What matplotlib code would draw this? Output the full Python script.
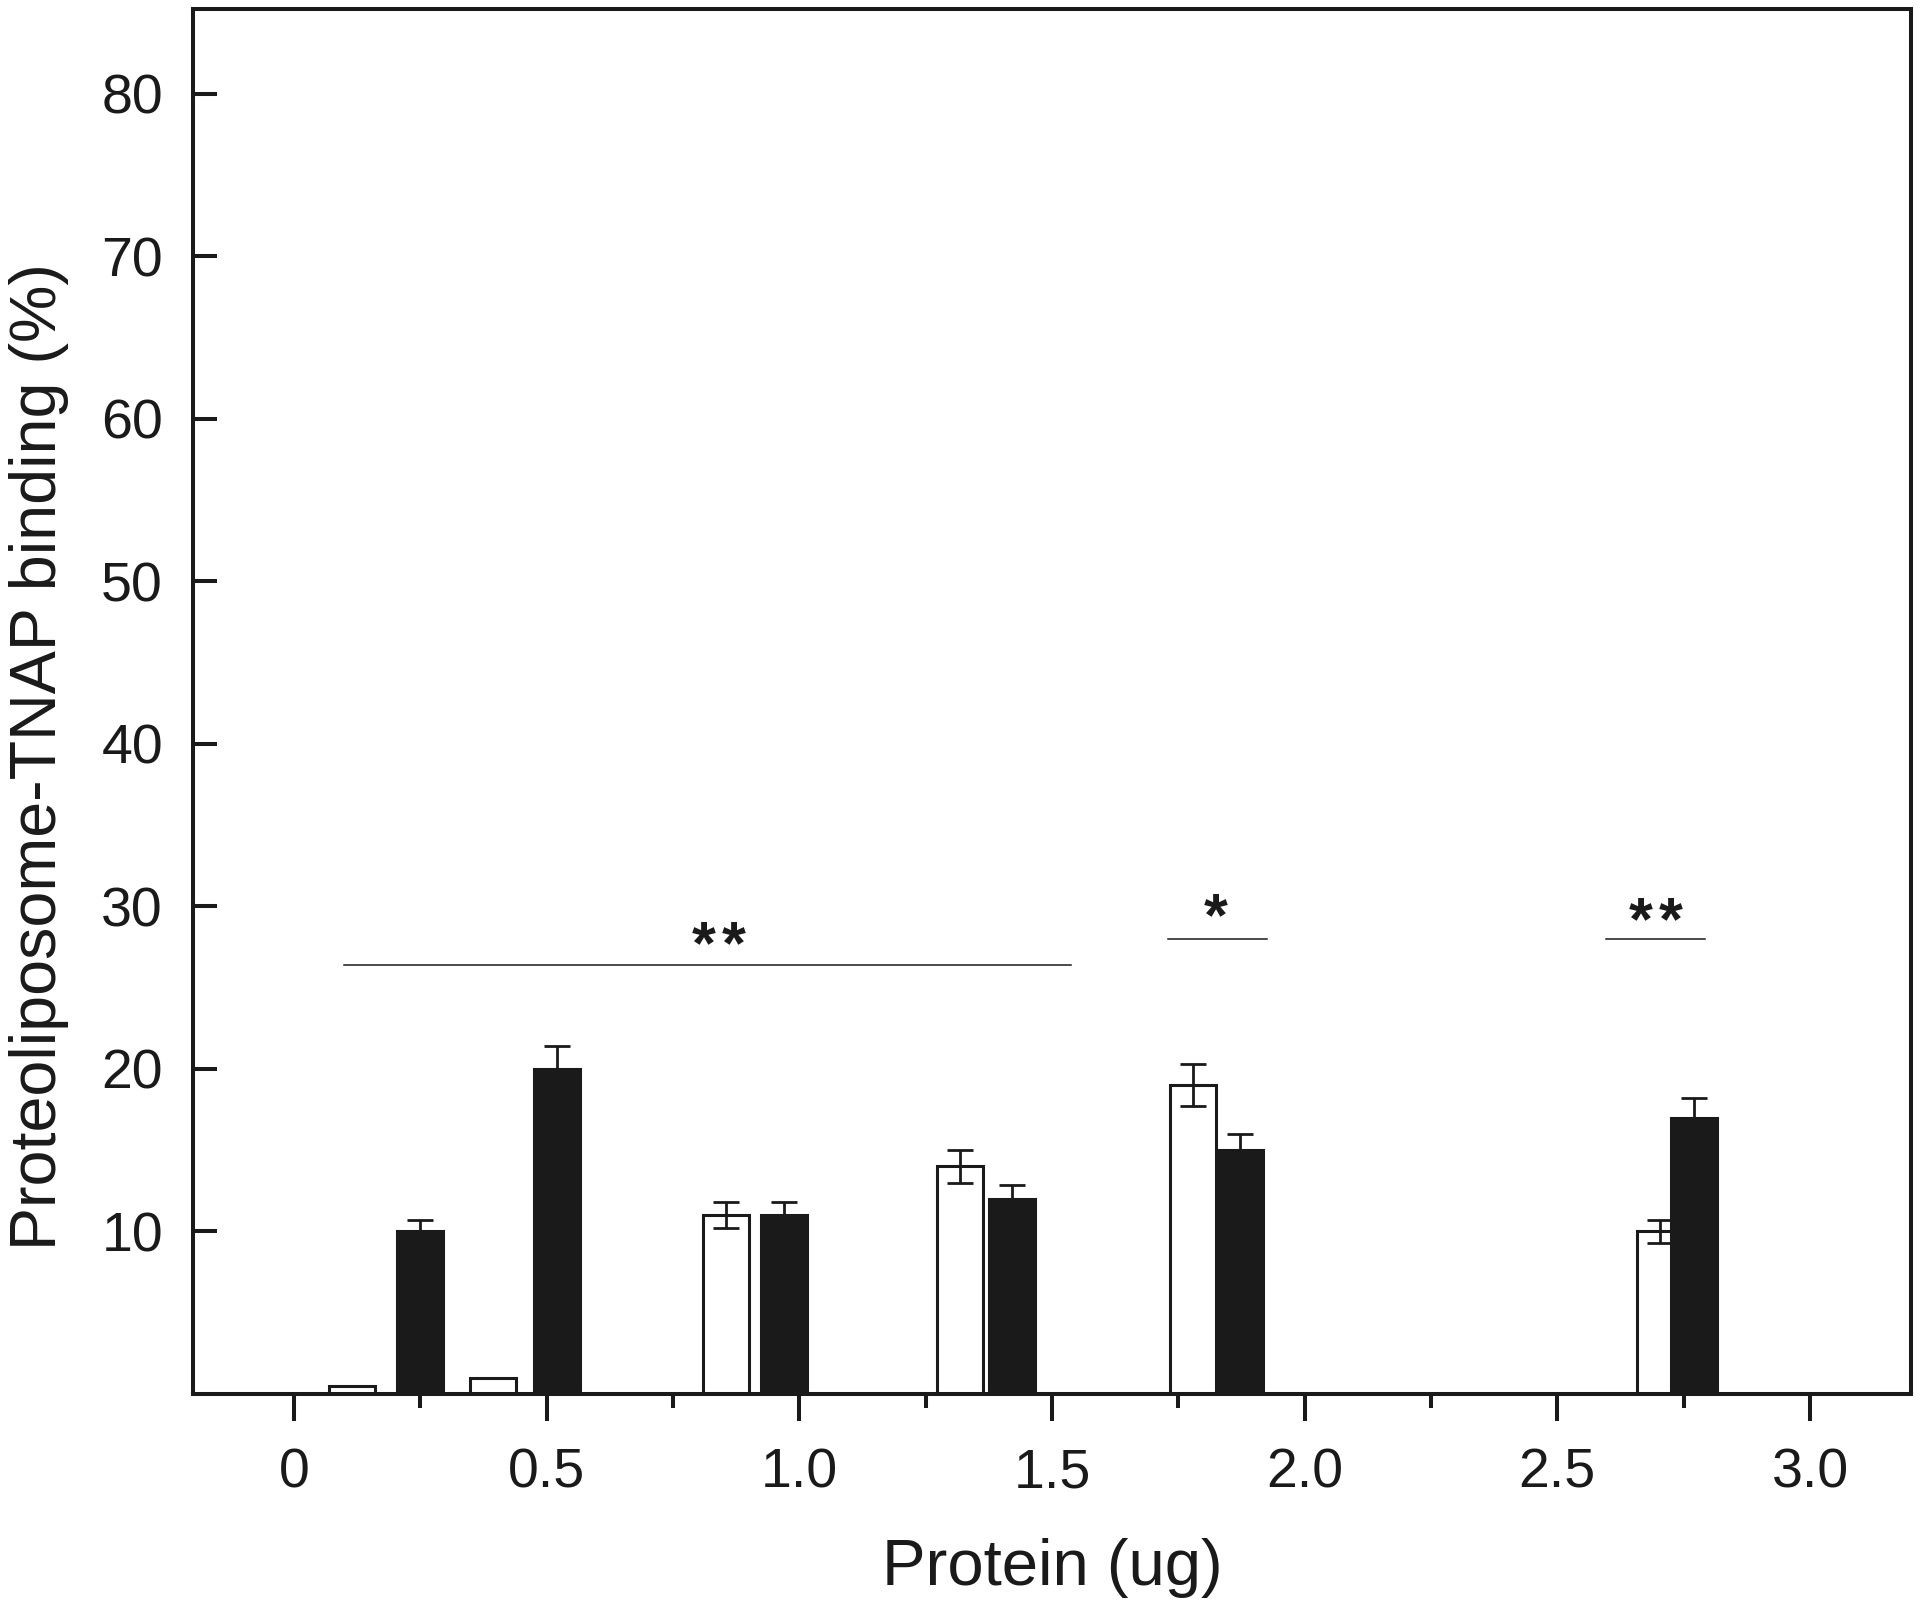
import matplotlib
matplotlib.use("Agg")
import matplotlib.pyplot as plt
from matplotlib.ticker import MultipleLocator

plt.rcParams["font.family"] = ["Liberation Sans", "DejaVu Sans"]

# bar positions (ug) and values (%)
open_x = [0.115, 0.393, 0.855, 1.318, 1.780, 2.704]
open_vals = [0.5, 1.0, 11.0, 14.0, 19.0, 10.0]
open_err = [0.0, 0.0, 0.8, 1.0, 1.3, 0.7]

filled_x = [0.249, 0.520, 0.970, 1.421, 1.872, 2.771]
filled_vals = [10.0, 20.0, 11.0, 12.0, 15.0, 17.0]
filled_err = [0.7, 1.4, 0.8, 0.85, 1.0, 1.2]

# significance marks: line from x0 to x1 at height y, n stars centred at sx
sig_x0 = [0.098, 1.729, 2.597]
sig_x1 = [1.538, 1.925, 2.792]
sig_y = [26.4, 28.0, 28.0]
sig_stars = [2, 1, 2]
sig_sx = [0.841, 1.825, 2.695]
sig_sy = [26.5, 28.2, 28.0]

x_ticks = [0, 0.5, 1.0, 1.5, 2.0, 2.5, 3.0]
x_ticklabels = ["0", "0.5", "1.0", "1.5", "2.0", "2.5", "3.0"]
y_ticks = [10, 20, 30, 40, 50, 60, 70, 80]

INK = "#1a1a1a"
BAR_W = 0.091
STAR_GAP = 0.0297

fig = plt.figure(figsize=(19.2, 16.11), dpi=100)
ax = fig.add_axes([0.1005, 0.1347, 0.8948, 0.8597])

ax.bar(open_x, open_vals, width=BAR_W, color="white", edgecolor=INK,
       linewidth=2.2, zorder=2)
ax.errorbar([x for x, e in zip(open_x, open_err) if e > 0],
            [v for v, e in zip(open_vals, open_err) if e > 0],
            yerr=[e for e in open_err if e > 0], fmt="none", ecolor=INK,
            elinewidth=2.0, capsize=9.6, capthick=2.0, zorder=3)

ax.bar(filled_x, filled_vals, width=BAR_W, color=INK, edgecolor=INK,
       linewidth=2.2, zorder=4)
ax.errorbar(filled_x, filled_vals, yerr=filled_err, fmt="none", ecolor=INK,
            elinewidth=2.0, capsize=9.6, capthick=2.0, zorder=5)

for x0, x1, y, n, sx, sy in zip(sig_x0, sig_x1, sig_y, sig_stars, sig_sx, sig_sy):
    ax.plot([x0, x1], [y, y], color=INK, lw=1.1, zorder=6)
    if n == 1:
        offs = [0.0]
    else:
        offs = [-STAR_GAP, STAR_GAP]
    for o in offs:
        ax.text(sx + o, sy, "*", ha="center", va="baseline", fontsize=44,
                fontweight="bold", color=INK)

ax.set_xlim(-0.2, 3.2)
ax.set_ylim(0, 85.2)

ax.set_xticks(x_ticks)
ax.set_xticklabels(x_ticklabels)
ax.xaxis.set_minor_locator(MultipleLocator(0.25))
ax.set_yticks(y_ticks)

ax.tick_params(axis="x", which="major", direction="out", length=19.5,
               width=2.9, pad=19, labelsize=40, colors=INK)
ax.tick_params(axis="x", which="minor", direction="out", length=10,
               width=2.9, colors=INK)
ax.tick_params(axis="y", which="major", direction="in", length=17,
               width=2.9, pad=21.6, labelsize=40, colors=INK)

for sp in ax.spines.values():
    sp.set_linewidth(2.9)
    sp.set_color(INK)

ax.set_xlabel("Protein (ug)", fontsize=47, color=INK, labelpad=28)
ax.set_ylabel("Proteoliposome-TNAP binding (%)", fontsize=46.5, color=INK)
ax.yaxis.set_label_coords(-0.072, 0.4606)

fig.savefig("out.png", dpi=100)
